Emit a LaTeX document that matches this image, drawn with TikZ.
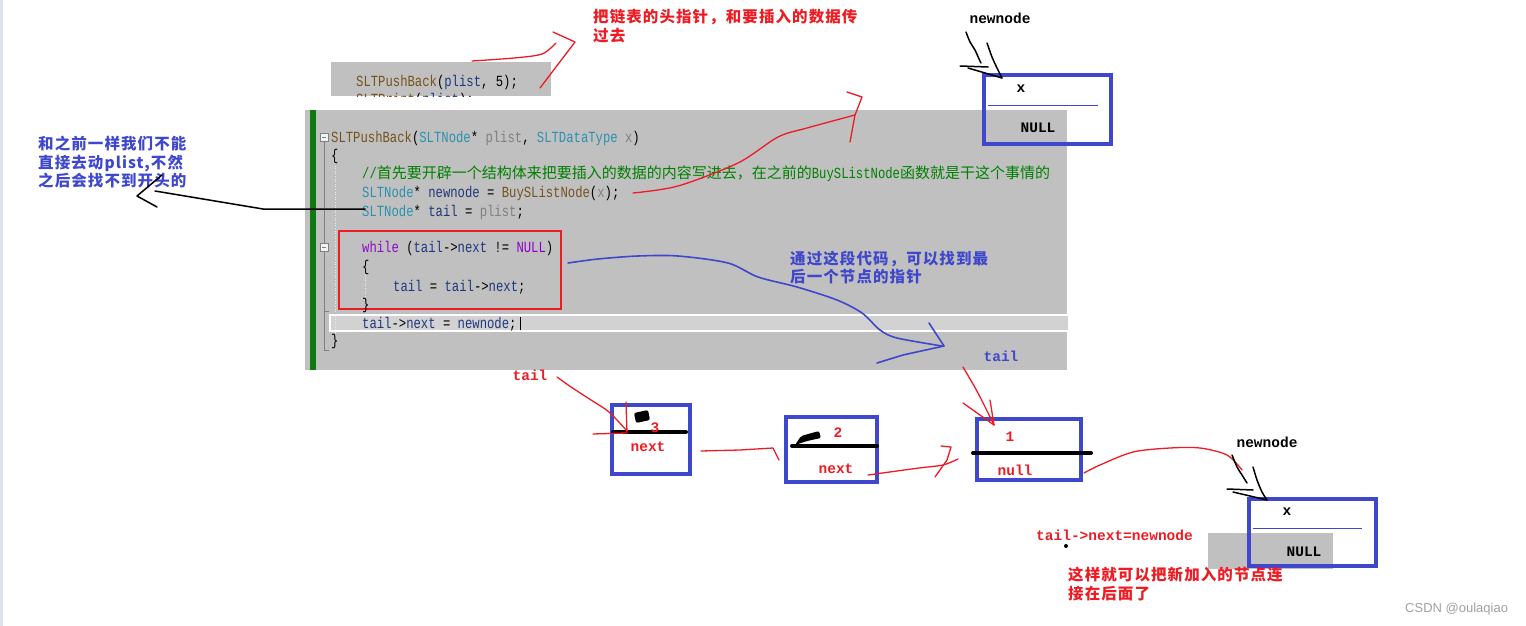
\documentclass[tikz,border=0pt]{standalone}
\usepackage{fontspec}
\usepackage{tikz}
\usetikzlibrary{calc}

\newfontfamily\codefont[FakeStretch=0.79]{Liberation Mono}
\newfontfamily\cjk{Noto Sans CJK SC}
\newfontfamily\penfont{Liberation Mono}
\newfontfamily\wmfont{Liberation Sans}

\definecolor{penred}{HTML}{ED1C24}
\definecolor{penblue}{HTML}{3F48CC}
\definecolor{codegray}{HTML}{C0C0C0}
\definecolor{curline}{HTML}{D2D2D2}
\definecolor{codegreen}{HTML}{0F7B0F}
\definecolor{stripe}{HTML}{DCE3EE}
\definecolor{wmgray}{HTML}{A0A0A0}
\definecolor{cfn}{HTML}{74531F}
\definecolor{cty}{HTML}{2B91AF}
\definecolor{cpa}{HTML}{808080}
\definecolor{clo}{HTML}{1F377F}
\definecolor{ckw}{HTML}{8F08C4}
\definecolor{cmac}{HTML}{8A00C8}
\definecolor{ccm}{HTML}{008000}

\newcommand{\cdfn}[1]{\textcolor{cfn}{#1}}
\newcommand{\cdty}[1]{\textcolor{cty}{#1}}
\newcommand{\cdpa}[1]{\textcolor{cpa}{#1}}
\newcommand{\cdlo}[1]{\textcolor{clo}{#1}}
\newcommand{\cdkw}[1]{\textcolor{ckw}{#1}}
\newcommand{\cdmac}[1]{\textcolor{cmac}{#1}}
\newcommand{\cdcjk}[1]{{\cjk\fontsize{15}{18}\selectfont #1}}

\begin{document}
\begin{tikzpicture}[x=1pt,y=-1pt,
  blue box/.style={draw=penblue,line width=4.5pt,inner sep=0pt},
  codeln/.style={anchor=base west,inner sep=0pt,font={\codefont\fontsize{15.5}{18}\selectfont}},
  redpen/.style={draw=penred,line width=1.3pt,line cap=round,line join=round},
  bluepen/.style={draw=penblue,line width=1.6pt,line cap=round,line join=round},
  blackpen/.style={draw=black,line width=1.5pt,line cap=round,line join=round},
  nodebar/.style={draw=black,line width=4pt,line cap=round},
  note/.style={inner sep=0pt,anchor=west,align=left,
    font={\cjk\bfseries\fontsize{15.5}{18.5}\selectfont\addfontfeature{LetterSpace=7}}},
  tag/.style={inner sep=0pt,font={\penfont\bfseries\fontsize{14.5}{16}\selectfont}}]
\useasboundingbox (0,0) rectangle (1526,626);

% background: editor pieces
\fill[stripe] (0,0) rectangle (3,626);
\fill[codegray] (331,62) rectangle (551,96);
\begin{scope}
\clip (331,62) rectangle (551,96);
\node[codeln] (s1) at (356,86) {\cdfn{SLTPushBack}(\cdlo{plist}, 5);};
\node[codeln] (s2) at (356,104) {\cdfn{SLTPrint}(\cdlo{plist});};
\end{scope}

\fill[codegray] (305,110) rectangle (1067,370);
\fill[codegreen] (310,110) rectangle (316,370);
\draw[white,line width=1.5pt,fill=curline] (330,315) rectangle (1069,331);
\draw[black,line width=0.8pt] (520,317) -- (520,330);
\draw[draw=penred,line width=1.2pt] (339,231) rectangle (561,309);

% gutter
\draw[gray,line width=0.6pt] (324,141) -- (324,350) -- (329,350);
\draw[gray,line width=0.6pt] (324,252) -- (324,311) -- (329,311);
\draw[gray,line width=0.6pt,fill=white!90!gray] (320,133) rectangle (328,141);
\draw[gray,line width=0.6pt] (322,137) -- (326,137);
\draw[gray,line width=0.6pt,fill=white!90!gray] (320,243) rectangle (328,251);
\draw[gray,line width=0.6pt] (322,247) -- (326,247);
\draw[white!85!gray,dotted,line width=0.6pt] (335,163) -- (335,335);
\draw[white!85!gray,dotted,line width=0.6pt] (365,275) -- (365,300);

% code lines
\node[codeln] (c1) at (331,142) {\cdfn{SLTPushBack}(\cdty{SLTNode}* \cdpa{plist}, \cdty{SLTDataType} \cdpa{x})};
\node[codeln] (c2) at (331,160) {\{};
\node[codeln] (c3) at (362,178) {\textcolor{ccm}{//\cdcjk{首先要开辟一个结构体来把要插入的数据的内容写进去，在之前的}BuySListNode\cdcjk{函数就是干这个事情的}}};
\node[codeln] (c4) at (362,197) {\cdty{SLTNode}* \cdlo{newnode} = \cdfn{BuySListNode}(\cdpa{x});};
\node[codeln] (c5) at (362,216) {\cdty{SLTNode}* \cdlo{tail} = \cdpa{plist};};
\node[codeln] (c6) at (362,252) {\cdkw{while} (\cdlo{tail}->\cdlo{next} != \cdmac{NULL})};
\node[codeln] (c7) at (362,271) {\{};
\node[codeln] (c8) at (393,291) {\cdlo{tail} = \cdlo{tail}->\cdlo{next};};
\node[codeln] (c9) at (362,309) {\}};
\node[codeln] (c10) at (362,328) {\cdlo{tail}->\cdlo{next} = \cdlo{newnode};};
\node[codeln] (c11) at (331,345) {\}};

% the new node at the top
\node[blue box,minimum width=127,minimum height=69] (topNew) at (1047.5,109.5) {};
\draw[penblue,line width=0.8pt] (988,105) -- (1098,105);
\node[tag] (topX) at (1021,89) {x};
\node[tag] (topNull) at (1038,128) {NULL};
\node[tag] (topLbl) at (1000,18) {newnode};

% list nodes
\node[blue box,minimum width=78,minimum height=69] (n3) at (651,439.5) {};
\node[blue box,minimum width=91,minimum height=65] (n2) at (831.5,449.5) {};
\node[blue box,minimum width=104,minimum height=61] (n1) at (1029,449.5) {};
\draw[nodebar] (613,432) -- (686,432);
\draw[nodebar] (792,446) -- (877,446);
\draw[nodebar] (973,453) -- (1091,453);
\fill[rounded corners=2pt] (634,413) -- (648,410) -- (650,420) -- (636,423) -- cycle;
\fill[rounded corners=2pt] (795,445) -- (801,436) -- (819,431) -- (821,438) -- (807,441) -- cycle;
\node[tag,text=penred] (v3) at (655,428) {3};
\node[tag,text=penred] (nx3) at (648,447) {next};
\node[tag,text=penred] (v2) at (838,433) {2};
\node[tag,text=penred] (nx2) at (836,469) {next};
\node[tag,text=penred] (v1) at (1010,437) {1};
\node[tag,text=penred] (nl1) at (1015,470) {null};

% the new node at the bottom
\fill[codegray] (1208,533) rectangle (1333,569);
\node[blue box,minimum width=127,minimum height=67] (botNew) at (1312.5,532.5) {};
\draw[penblue,line width=0.8pt] (1253,528) -- (1362,528);
\node[tag] (botX) at (1287,512) {x};
\node[tag] (botNull) at (1304,552) {NULL};
\node[tag] (botLbl) at (1267,442) {newnode};

% notes
\node[note,text=penred] (noteTop) at (593,26) {把链表的头指针，和要插入的数据传\\过去};
\node[note,text=penblue] (noteLeft) at (38,162.5) {和之前一样我们不能\\直接去动plist,不然\\之后会找不到开头的};
\node[note,text=penblue] (noteWhile) at (790,267.5) {通过这段代码，可以找到最\\后一个节点的指针};
\node[note,text=penred] (noteEnd) at (1068,584) {这样就可以把新加入的节点连\\接在后面了};
\node[tag,text=penred] (tailR) at (530,375) {tail};
\node[tag,text=penblue] (tailB) at (1001,356) {tail};
\node[tag,text=penred,anchor=west] (link) at (1036,535) {tail->next=newnode};
\fill (1066,546) circle (2);
\node[anchor=west,inner sep=0pt,text=wmgray,font={\wmfont\fontsize{13}{15}\selectfont}] (wm) at (1405,609) {CSDN @oulaqiao};

% hand drawn arrows
\coordinate (pArgs) at (472,61);
\coordinate (pBuy) at (633,193);
\coordinate (pTail) at (365,209);
\coordinate (pWhile) at (568,263);
\draw[redpen] plot[smooth] coordinates {(pArgs) (514,58) (542,54) (556,43)};
\draw[redpen] (553,32) -- (575,42) -- (540,88);
\draw[redpen] plot[smooth] coordinates {(pBuy) (678,186) (738,163) (778,137) (807,128) (855,115)};
\draw[redpen] (847,92) -- (862,97) -- (855,115) -- (850,142);
\draw[blackpen] (pTail) -- (263,209) -- (155,191);
\draw[blackpen] (162,175) -- (137,196) -- (157,207);
\draw[bluepen] plot[smooth] coordinates {(pWhile) (598,259) (638,256) (678,256) (728,263) (758,277) (797,287) (837,300) (862,313) (880,330) (897,338) (942,346)};
\draw[bluepen] (929,323) -- (944,346);
\draw[bluepen] (877,363) -- (903,355) -- (944,346);

\draw[redpen] plot[smooth] coordinates {(557,377) (571,387) (591,400) (609,412) (627,431)};
\draw[redpen] (626,402) -- (627,433);
\draw[redpen] (593,434) -- (626,433);
\draw[redpen] (701,451) -- (740,450) -- (773,448) -- (779,460);
\draw[redpen] plot[smooth] coordinates {(868,475) (919,468) (943,465) (958,459)};
\draw[redpen] (941,446) -- (951,447) -- (947,460) -- (935,477);
\draw[redpen] plot[smooth] coordinates {(963,367) (978,393) (994,425)};
\draw[redpen] (963,403) -- (994,425);
\draw[redpen] (990,400) -- (994,425);
\draw[redpen] plot[smooth] coordinates {(1084,473) (1100,465) (1133,452) (1170,448) (1200,448) (1227,455) (1242,470)};

\draw[blackpen] plot[smooth] coordinates {(966,32) (970,42) (975,50) (979,59) (981,63)};
\draw[blackpen] plot[smooth] coordinates {(987,43) (992,57) (997,68) (1002,78)};
\draw[blackpen] (960,66) -- (988,67);
\draw[blackpen] (968,68) -- (1002,78);
\draw[blackpen] plot[smooth] coordinates {(1232,455) (1237,467) (1242,475) (1247,483)};
\draw[blackpen] plot[smooth] coordinates {(1253,467) (1257,480) (1262,492) (1267,500)};
\draw[blackpen] (1227,489) -- (1253,490);
\draw[blackpen] (1233,492) -- (1267,500);
\end{tikzpicture}
\end{document}
